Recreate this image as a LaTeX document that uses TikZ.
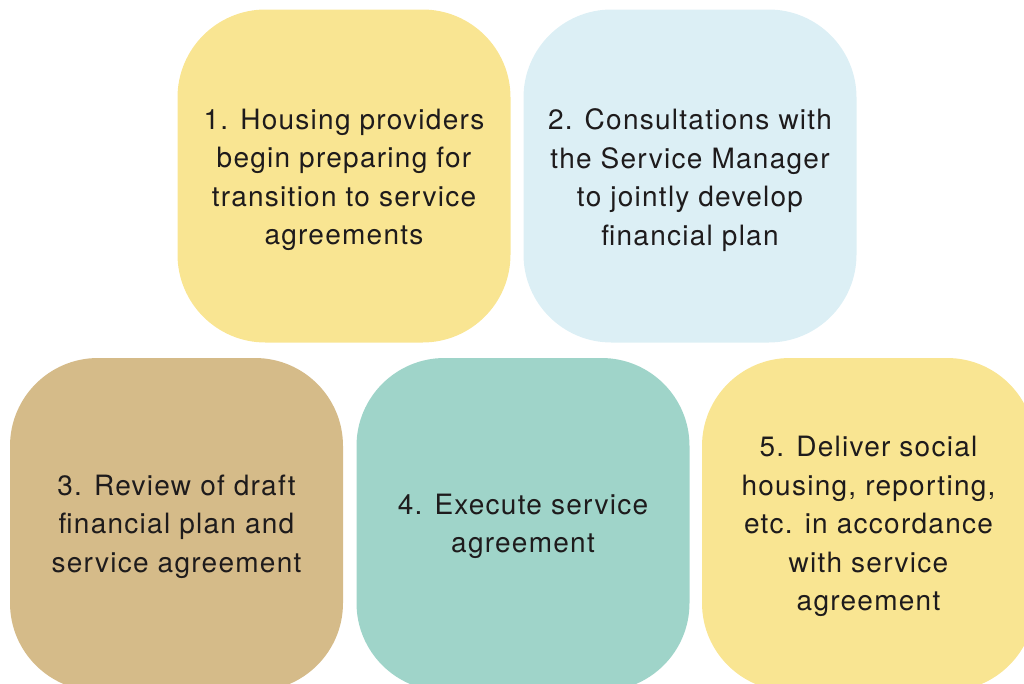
\documentclass[tikz,border=0pt]{standalone}
\usepackage{fontspec}
\setmainfont{TeX Gyre Heros}[LetterSpace=4.5]
\definecolor{boxyellow}{HTML}{F9E592}
\definecolor{boxblue}{HTML}{DCEFF5}
\definecolor{boxtan}{HTML}{D5BB89}
\definecolor{boxteal}{HTML}{9FD4C9}
\definecolor{ink}{HTML}{1E1B1C}
\tikzset{
  stage/.style={rectangle, rounded corners=88pt, minimum width=333pt,
    minimum height=333pt, inner sep=0pt},
  stagetext/.style={align=center, text=ink, inner sep=0pt,
    font=\fontsize{28}{38.5}\selectfont},
}
\begin{document}
\begin{tikzpicture}[x=1pt,y=-1pt]
\useasboundingbox (0,0) rectangle (1024,683);
\clip (0,0) rectangle (1024,683);
% rounded stage panels
\node[stage, fill=boxyellow] (s1) at (344,176) {};
\node[stage, fill=boxblue]   (s2) at (690,176) {};
\node[stage, fill=boxtan]    (s3) at (176.5,524.5) {};
\node[stage, fill=boxteal]   (s4) at (523,524.5) {};
\node[stage, fill=boxyellow] (s5) at (868.5,524.5) {};
% stage descriptions
\node[stagetext] (t1) at ([yshift=-4pt]s1.center)
  {1. Housing providers\\begin preparing for\\transition to service\\agreements};
\node[stagetext] (t2) at ([yshift=-4pt]s2.center)
  {2. Consultations with\\the Service Manager\\to jointly develop\\financial plan};
\node[stagetext] (t3) at ([yshift=-2pt]s3.center)
  {3. Review of draft\\financial plan and\\service agreement};
\node[stagetext] (t4) at ([yshift=-2pt]s4.center)
  {4. Execute service\\agreement};
\node[stagetext] (t5) at ([yshift=-2pt]s5.center)
  {5. Deliver social\\housing, reporting,\\etc. in accordance\\with service\\agreement};
\end{tikzpicture}
\end{document}
